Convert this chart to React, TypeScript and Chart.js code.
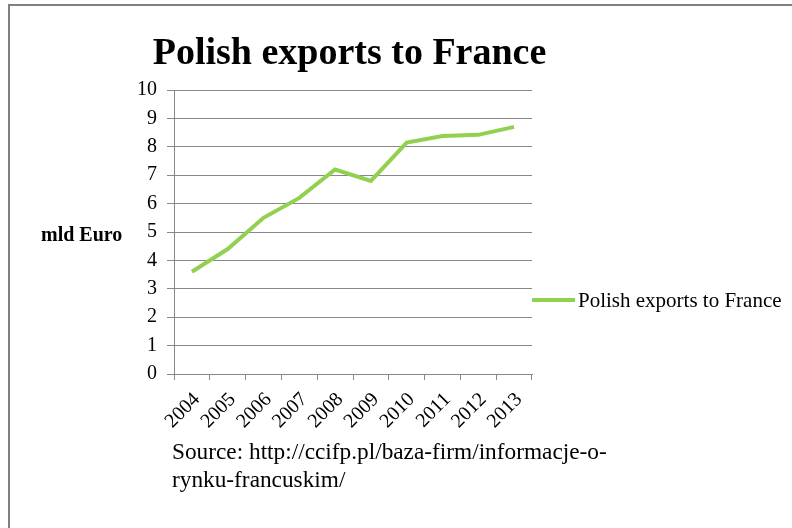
import React, { useEffect, useRef } from "react";
import { Chart, registerables } from "chart.js";

Chart.register(...registerables);

const years = ["2004", "2005", "2006", "2007", "2008", "2009", "2010", "2011", "2012", "2013"];
const exportsValues = [3.6, 4.4, 5.5, 6.2, 7.2, 6.8, 8.15, 8.38, 8.42, 8.7];
const seriesLabel = "Polish exports to France";
const titleText = "Polish exports to France";
const yAxisLabel = "mld Euro";
const sourceLines = ["Source: http://ccifp.pl/baza-firm/informacje-o-", "rynku-francuskim/"];
const yMin = 0;
const yMax = 10;
const yStep = 1;

const SERIF = '"Liberation Serif", "Times New Roman", serif';
const LINE_COLOR = "#92D050";
const GRID_COLOR = "#888888";

const textPlugin = {
  id: "customText",
  afterDraw(chart: any) {
    const ctx = chart.ctx as CanvasRenderingContext2D;
    const area = chart.chartArea;
    ctx.save();
    ctx.fillStyle = "#000";
    ctx.textBaseline = "alphabetic";

    // title
    ctx.font = `bold 38px ${SERIF}`;
    ctx.textAlign = "center";
    ctx.fillText(titleText, 349.5, 64);

    // y axis label (horizontal)
    ctx.font = `bold 20px ${SERIF}`;
    ctx.textAlign = "left";
    ctx.fillText(yAxisLabel, 41, 241);

    // legend
    const ds = chart.data.datasets[0];
    ctx.strokeStyle = ds.borderColor;
    ctx.lineWidth = ds.borderWidth;
    ctx.beginPath();
    ctx.moveTo(area.right, 300);
    ctx.lineTo(575, 300);
    ctx.stroke();
    ctx.font = `21px ${SERIF}`;
    ctx.fillText(ds.label, 578, 307);

    // source
    ctx.font = `23.3px ${SERIF}`;
    sourceLines.forEach((line, i) => {
      ctx.fillText(line, 172, 459 + i * 28);
    });
    ctx.restore();
  },
};

export default function App() {
  const canvasRef = useRef<HTMLCanvasElement | null>(null);

  useEffect(() => {
    const canvas = canvasRef.current;
    if (!canvas) return;
    const chart = new Chart(canvas, {
      type: "line",
      data: {
        labels: years,
        datasets: [
          {
            label: seriesLabel,
            data: exportsValues,
            borderColor: LINE_COLOR,
            backgroundColor: LINE_COLOR,
            borderWidth: 4,
            pointRadius: 0,
            tension: 0,
            fill: false,
          },
        ],
      },
      options: {
        responsive: false,
        animation: false,
        devicePixelRatio: 1,
        layout: { padding: { left: 0, right: 260, top: 90, bottom: 0 } },
        plugins: {
          legend: { display: false },
          title: { display: false },
          tooltip: { enabled: false },
        },
        scales: {
          x: {
            offset: true,
            grid: {
              offset: true,
              drawOnChartArea: false,
              drawTicks: true,
              tickLength: 6,
              color: GRID_COLOR,
            },
            border: { color: GRID_COLOR },
            ticks: {
              autoSkip: false,
              minRotation: 45,
              maxRotation: 45,
              color: "#000",
              padding: 8,
              labelOffset: 5,
              font: { family: SERIF, size: 20 },
            },
            afterFit: (s: any) => {
              s.height = 154;
            },
          },
          y: {
            min: yMin,
            max: yMax,
            ticks: {
              stepSize: yStep,
              color: "#000",
              padding: 10,
              font: { family: SERIF, size: 20 },
            },
            grid: { color: GRID_COLOR, tickLength: 7 },
            border: { color: GRID_COLOR },
            afterFit: (s: any) => {
              s.width = 174;
            },
          },
        },
      },
      plugins: [textPlugin],
    });
    return () => chart.destroy();
  }, []);

  return (
    <>
      <div
        style={{
          position: "fixed",
          left: 8,
          top: 4,
          width: 784,
          height: 524,
          borderTop: "2px solid #808080",
          borderLeft: "2px solid #808080",
          boxSizing: "border-box",
          pointerEvents: "none",
        }}
      />
      <canvas
        ref={canvasRef}
        width={792}
        height={528}
        style={{ position: "fixed", left: 0, top: 0, width: 792, height: 528 }}
      />
    </>
  );
}
